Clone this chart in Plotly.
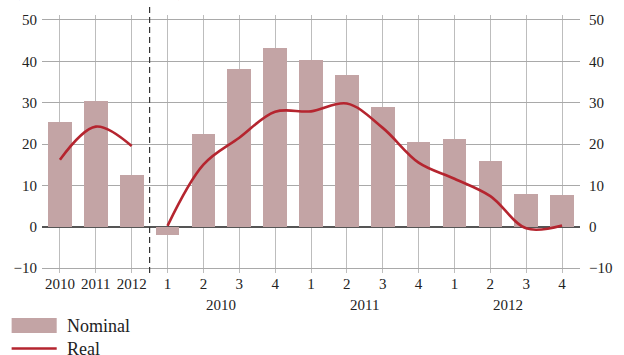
import plotly.graph_objects as go

# ---- data ----
cat_ids = ["A2010", "A2011", "A2012",
           "Q1-2010", "Q2-2010", "Q3-2010", "Q4-2010",
           "Q1-2011", "Q2-2011", "Q3-2011", "Q4-2011",
           "Q1-2012", "Q2-2012", "Q3-2012", "Q4-2012"]
tick_labels = ["2010", "2011", "2012", "1", "2", "3", "4", "1", "2", "3", "4", "1", "2", "3", "4"]
nominal = [25.4, 30.5, 12.6, -2.0, 22.5, 38.2, 43.1, 40.3, 36.8, 29.0, 20.5, 21.2, 15.9, 8.0, 7.7]
real_annual = [16.2, 24.2, 19.5]
real_quarterly = [0.2, 15.0, 21.5, 27.8, 27.9, 29.8, 23.9, 15.5, 11.6, 7.4, -0.4, 0.3]
year_groups = ["2010", "2011", "2012"]
y_ticks = [-10, 0, 10, 20, 30, 40, 50]

BAR = "#C3A4A5"
LINE = "#B5252F"
FONT = "Liberation Serif"

xi = list(range(len(cat_ids)))
W, H = 624, 355
L, R, T, B = 42, 591, 15, 273

def px(p):
    return (p - L) / (R - L)

def py(p):
    return (B - p) / (B - T)

fig = go.Figure()
fig.add_trace(go.Bar(x=xi, y=nominal, marker=dict(color=BAR, line=dict(width=0)),
                     width=0.66, showlegend=False, name="Nominal"))
fig.add_trace(go.Scatter(x=xi[:3], y=real_annual, mode="lines",
                         line=dict(color=LINE, width=2.6, shape="spline", smoothing=1.0),
                         showlegend=False, name="Real"))
fig.add_trace(go.Scatter(x=xi[3:], y=real_quarterly, mode="lines",
                         line=dict(color=LINE, width=2.6, shape="spline", smoothing=1.0),
                         showlegend=False, name="Real"))
fig.add_trace(go.Scatter(x=[0], y=[None], yaxis="y2", showlegend=False, hoverinfo="skip"))

yr = [-11.2, 51.2]
fig.update_layout(
    width=W, height=H,
    margin=dict(l=L, r=W - R, t=T, b=H - B),
    paper_bgcolor="white", plot_bgcolor="white",
    font=dict(family=FONT, size=15, color="#222"),
    bargap=0,
    xaxis=dict(range=[-0.5, len(cat_ids) - 0.5], tickvals=xi, ticktext=tick_labels,
               showgrid=True, gridcolor="#bdbdbd", gridwidth=1, zeroline=False,
               showline=False, ticks="", tickfont=dict(size=15, family=FONT, color="#222")),
    yaxis=dict(range=yr, tickvals=y_ticks, ticktext=[("\u221210" if v == -10 else str(v)) for v in y_ticks],
               showgrid=True, gridcolor="#a9a9a9", gridwidth=1.2,
               zeroline=True, zerolinecolor="#555", zerolinewidth=1.5,
               showline=False, ticks="", ticklabelstandoff=4,
               tickfont=dict(size=15, family=FONT, color="#222")),
    yaxis2=dict(range=yr, tickvals=y_ticks, ticktext=[("\u221210" if v == -10 else str(v)) for v in y_ticks],
                overlaying="y", side="right", showgrid=False, zeroline=False,
                showline=False, ticks="", ticklabelstandoff=8,
                tickfont=dict(size=15, family=FONT, color="#222")),
)

# dashed separator between annual and quarterly
fig.add_shape(type="line", xref="x", yref="paper", x0=2.5, x1=2.5, y0=0, y1=py(5),
              line=dict(color="#333", width=1.2, dash="6px,4px"))

# year group labels under quarters
for k, yname in enumerate(year_groups):
    fig.add_annotation(x=4.5 + 4 * k, y=py(305), xref="x", yref="paper", text=yname,
                       showarrow=False, yanchor="middle", font=dict(size=15, family=FONT, color="#222"))

# top (cropped) unit label
fig.add_annotation(x=px(12), y=py(3), xref="paper", yref="paper", text="(year-on-year change, in %)",
                   showarrow=False, xanchor="left", yanchor="bottom", font=dict(size=15, family=FONT, color="#222"))

# legend (manual)
fig.add_shape(type="rect", xref="paper", yref="paper", x0=px(11), x1=px(57), y0=py(333), y1=py(318),
              fillcolor=BAR, line=dict(width=0))
fig.add_shape(type="line", xref="paper", yref="paper", x0=px(11), x1=px(57), y0=py(348.5), y1=py(348.5),
              line=dict(color=LINE, width=2.6))
fig.add_annotation(x=px(65), y=py(325.5), xref="paper", yref="paper", text="Nominal", showarrow=False,
                   xanchor="left", yanchor="middle", font=dict(size=18, family=FONT, color="#222"))
fig.add_annotation(x=px(65), y=py(348.5), xref="paper", yref="paper", text="Real", showarrow=False,
                   xanchor="left", yanchor="middle", font=dict(size=18, family=FONT, color="#222"))

fig.write_html("out.html")
